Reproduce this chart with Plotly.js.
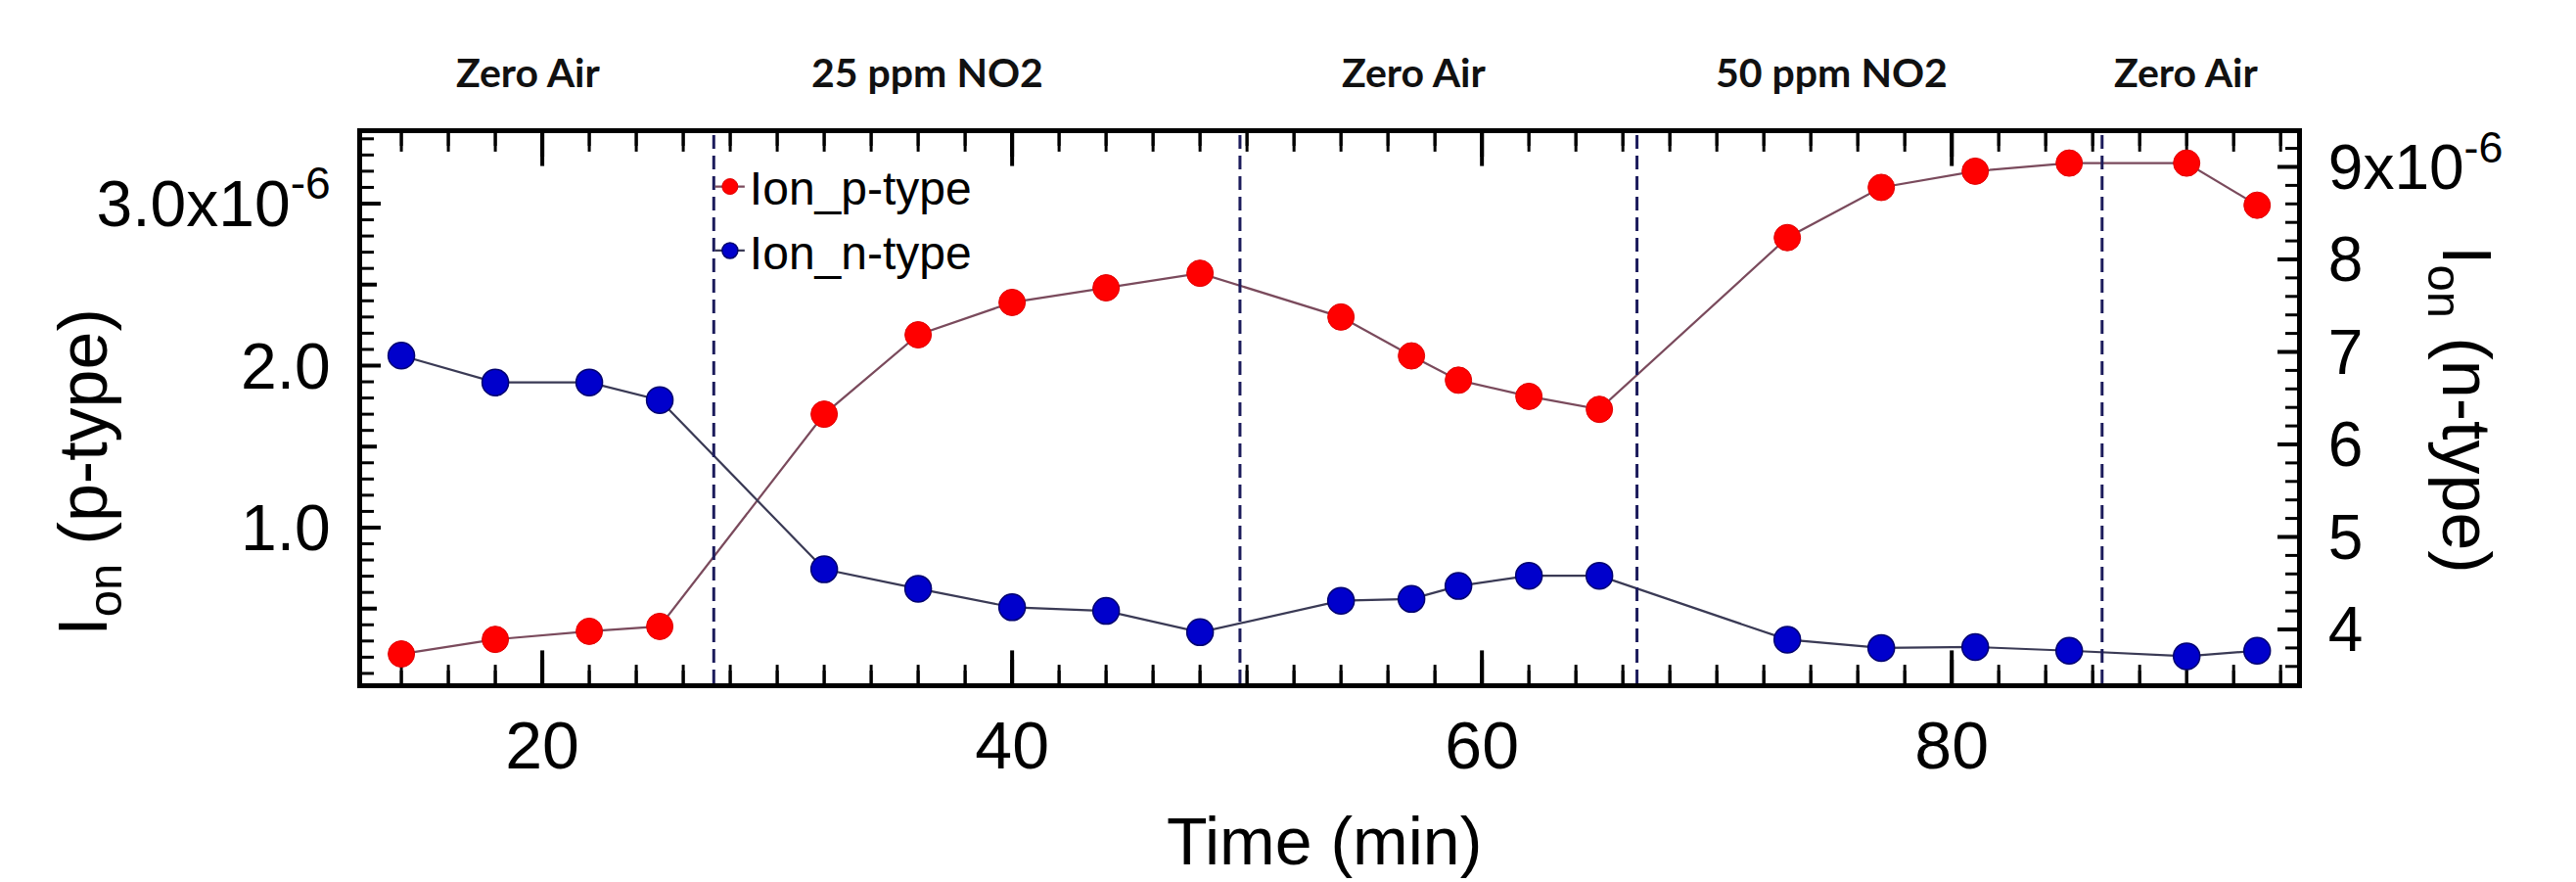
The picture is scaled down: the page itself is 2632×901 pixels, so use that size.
<!DOCTYPE html>
<html><head><meta charset="utf-8">
<script src="https://cdn.plot.ly/plotly-3.0.1.min.js"></script>
<style>html,body{margin:0;padding:0;background:#fff}#chart{width:2632px;height:901px}</style>
</head><body><div id="chart"></div>
<script>
// Time (min)
const timeMin = [14,18,22,25,32,36,40,44,48,54,57,59,62,65,73,77,81,85,90,93];
// Ion, p-type (units of 1e-6 A)
const ionP = [0.22,0.31,0.36,0.39,1.70,2.19,2.39,2.48,2.57,2.30,2.06,1.91,1.81,1.73,2.79,3.10,3.20,3.25,3.25,2.99];
// Ion, n-type (units of 1e-6 A)
const ionN = [6.96,6.67,6.67,6.48,4.65,4.44,4.24,4.20,3.97,4.31,4.33,4.47,4.58,4.58,3.89,3.80,3.81,3.77,3.71,3.77];
// gas switching times (min)
const phaseBoundaries = [27.3, 49.7, 66.6, 86.4];
const phaseLabels = ['Zero Air','25 ppm NO2','Zero Air','50 ppm NO2','Zero Air'];
const phaseLabelX = [19.4, 36.4, 57.1, 74.9, 90.0];
const xTickVals = [20, 40, 60, 80];
const yLeftTickVals = [1, 2, 3];
const yLeftTickText = ['1.0','2.0','3.0x10<sup>-6</sup>'];
const yRightTickVals = [4,5,6,7,8,9];
const yRightTickText = ['4','5','6','7','8','9x10<sup>-6</sup>'];

const xRange = [12.33, 94.7];
const yRange = [0.039, 3.435];
const y2Range = [3.418, 9.365];

const W = 2632, H = 901;
const margin = {l: 370, r: 285, t: 136, b: 203, pad: 0};
const plotH = H - margin.t - margin.b;
const yPerPx = (yRange[1] - yRange[0]) / plotH;

// x-axis tick positions (every 2 min, major every 20)
const xMinorTicks = [];
for (let v = Math.ceil(xRange[0] / 2) * 2; v <= xRange[1]; v += 2) {
  if (!xTickVals.includes(v)) xMinorTicks.push(v);
}

function tickMarkTrace(xs, size, width) {
  // inside tick marks on the bottom and top x-axis lines; the outer half is clipped by the plot area
  const x = xs.concat(xs);
  const y = xs.map(() => yRange[0]).concat(xs.map(() => yRange[1]));
  return {x: x, y: y, type: 'scatter', mode: 'markers', yaxis: 'y', showlegend: false,
          hoverinfo: 'skip', cliponaxis: true,
          marker: {symbol: 'line-ns', size: size, color: '#000', line: {color: '#000', width: width}}};
}

const traces = [
  tickMarkTrace(xTickVals, 48, 4),
  tickMarkTrace(xMinorTicks, 27, 3),
  {x: timeMin, y: ionP, name: 'Ion_p-type', type: 'scatter', mode: 'lines+markers', yaxis: 'y',
   line: {color: '#7a4a5c', width: 2.2},
   marker: {color: '#ff0000', size: 27, line: {color: '#e00000', width: 1}}},
  {x: timeMin, y: ionN, name: 'Ion_n-type', type: 'scatter', mode: 'lines+markers', yaxis: 'y2',
   line: {color: '#3a3a55', width: 2.2},
   marker: {color: '#0000cc', size: 27, line: {color: '#000070', width: 1.5}}}
];

const shapes = phaseBoundaries.map(b => ({
  type: 'line', xref: 'x', yref: 'paper', x0: b, x1: b, y0: 0, y1: 1,
  line: {color: '#1c1c5c', width: 3, dash: '14px,7px'}
}));

// inside tick marks (drawn as axis-referenced shapes)
function xTick(v, len, w, top) {
  const d = len * yPerPx;
  return {type: 'line', layer: 'above', xref: 'x', yref: 'y', x0: v, x1: v,
          y0: top ? yRange[1] : yRange[0], y1: top ? yRange[1] - d : yRange[0] + d,
          line: {color: '#000', width: w}};
}
function yTick(v, len, w, axisRef, right) {
  return {type: 'line', layer: 'above', xref: 'paper', yref: axisRef, y0: v, y1: v, xsizemode: 'pixel',
          xanchor: right ? 1 : 0, x0: 0, x1: right ? -len : len, line: {color: '#000', width: w}};
}
xTickVals.forEach(v => { shapes.push(xTick(v, 24, 4, false)); shapes.push(xTick(v, 24, 4, true)); });
xMinorTicks.forEach(v => { shapes.push(xTick(v, 13, 3, false)); shapes.push(xTick(v, 13, 3, true)); });
for (let i = Math.ceil(yRange[0] * 10); i <= Math.floor(yRange[1] * 10); i++) {
  const v = i / 10;
  const len = (i % 10 === 0) ? 19 : (i % 5 === 0 ? 15 : 12);
  shapes.push(yTick(v, len, (i % 5 === 0) ? 4 : 3, 'y', false));
}
for (let i = Math.ceil(y2Range[0] * 5); i <= Math.floor(y2Range[1] * 5); i++) {
  const v = i / 5;
  const major = (i % 5 === 0);
  shapes.push(yTick(v, major ? 20 : 12, major ? 4 : 3, 'y2', true));
}

const annotations = phaseLabels.map((t, i) => ({
  text: t, xref: 'x', yref: 'paper', x: phaseLabelX[i], y: 1.111,
  xanchor: 'center', yanchor: 'middle', showarrow: false,
  font: {family: 'Lato, "Open Sans", sans-serif', size: 41, color: '#111', weight: 'bold'}
}));
annotations.push({
  text: 'I<sub>on</sub> (p-type)', xref: 'paper', yref: 'paper', x: -0.1416, y: 0.383,
  xanchor: 'center', yanchor: 'middle', textangle: -90, showarrow: false,
  font: {size: 70, color: '#000'}
});
annotations.push({
  text: 'I<sub>on</sub> (n-type)', xref: 'paper', yref: 'paper', x: 1.085, y: 0.498,
  xanchor: 'center', yanchor: 'middle', textangle: 90, showarrow: false,
  font: {size: 70, color: '#000'}
});
annotations.push({
  text: 'Time (min)', xref: 'paper', yref: 'paper', x: 0.497, y: -0.287,
  xanchor: 'center', yanchor: 'middle', showarrow: false,
  font: {size: 68, color: '#000'}
});

const layout = {
  width: W, height: H,
  margin: margin,
  paper_bgcolor: '#ffffff', plot_bgcolor: '#ffffff',
  font: {family: '"Liberation Sans", Arial, sans-serif', color: '#000'},
  showlegend: true,
  legend: {x: 0.18, y: 0.97, xanchor: 'left', yanchor: 'top', bgcolor: 'rgba(0,0,0,0)',
           font: {size: 48}, tracegroupgap: 0},
  xaxis: {range: xRange, tickmode: 'array', tickvals: xTickVals, ticks: '',
          showline: true, linewidth: 5, linecolor: '#000', mirror: true,
          showgrid: false, zeroline: false, tickfont: {size: 68}},
  yaxis: {range: yRange, tickmode: 'array', tickvals: yLeftTickVals, ticktext: yLeftTickText, ticks: '',
          showline: true, linewidth: 5, linecolor: '#000', mirror: false,
          showgrid: false, zeroline: false, tickfont: {size: 66}, ticklabelstandoff: 14},
  yaxis2: {overlaying: 'y', side: 'right', range: y2Range, tickmode: 'array',
          tickvals: yRightTickVals, ticktext: yRightTickText, ticks: '',
          showline: true, linewidth: 5, linecolor: '#000',
          showgrid: false, zeroline: false, tickfont: {size: 64}, ticklabelstandoff: 14},
  shapes: shapes,
  annotations: annotations
};

Plotly.newPlot('chart', traces, layout, {displayModeBar: false, staticPlot: true});
</script>
</body></html>
